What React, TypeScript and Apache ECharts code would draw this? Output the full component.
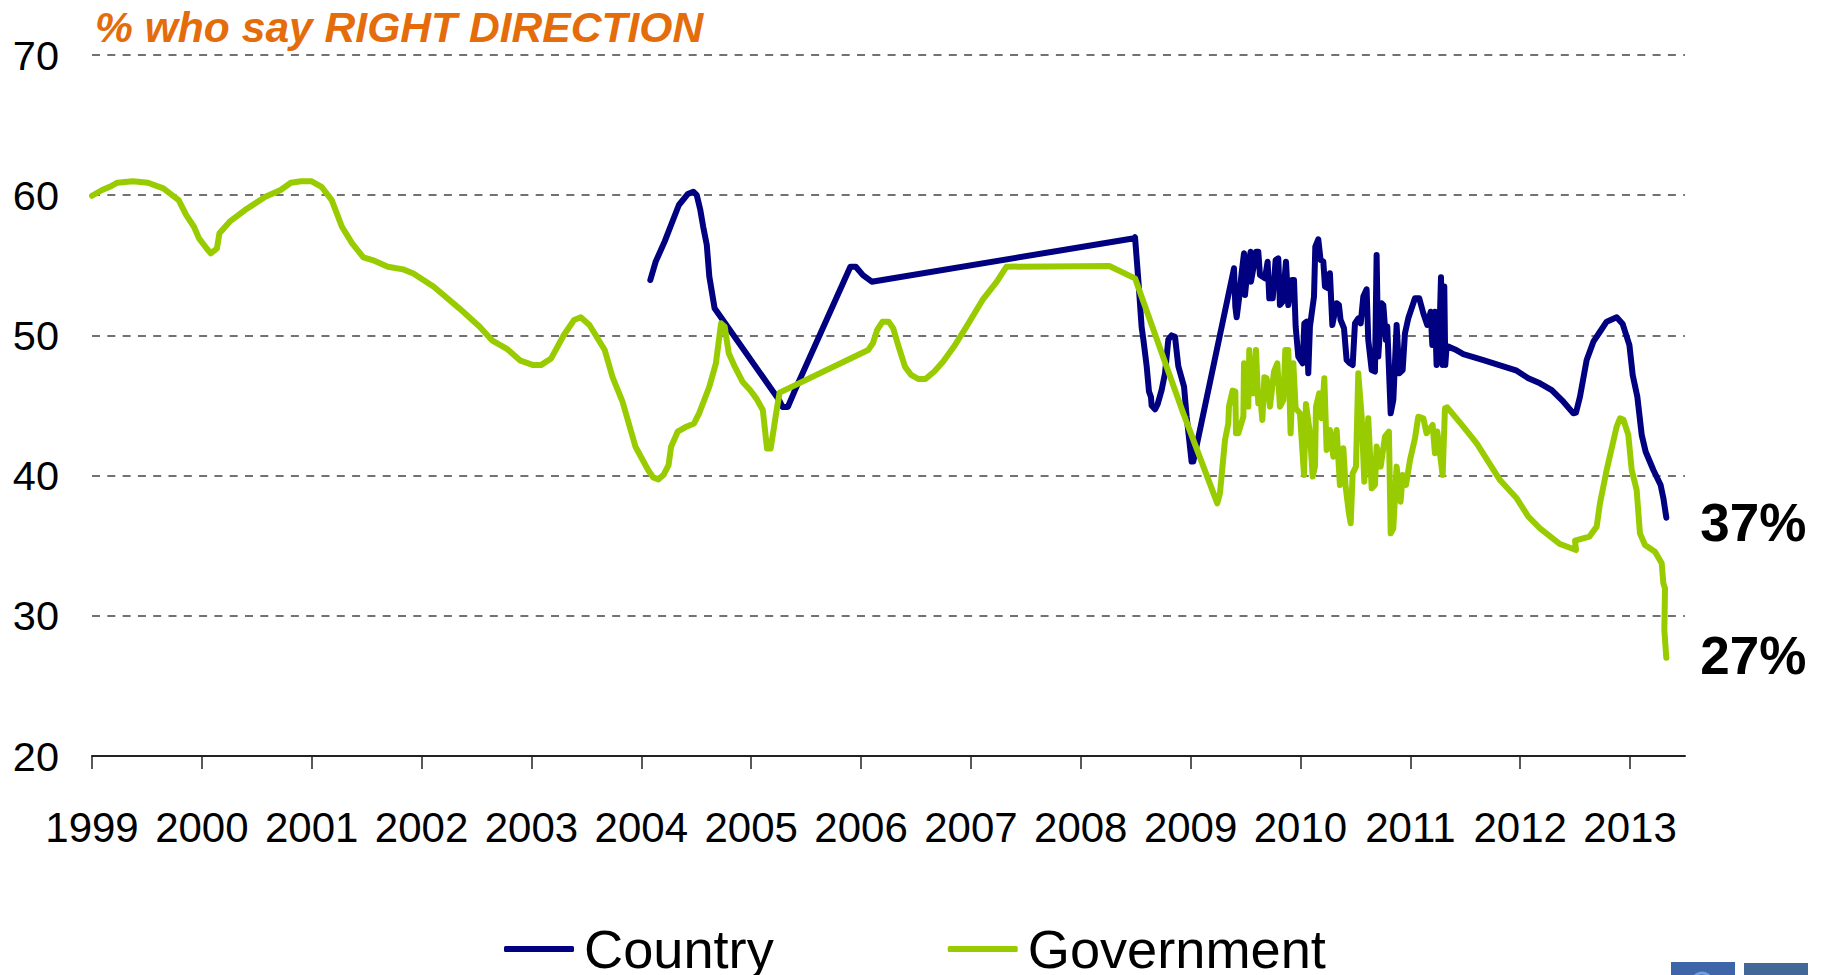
import React, { useEffect, useRef } from "react";
import * as echarts from "echarts";

const NAVY = "#000080";
const GREEN = "#99CC00";
const ORANGE = "#E46C0A";
const FONT = "'Liberation Sans', Arial, sans-serif";

const yearTicks = [1999, 2000, 2001, 2002, 2003, 2004, 2005, 2006, 2007, 2008, 2009, 2010, 2011, 2012, 2013];

// Tracking poll, [decimal year, % right direction]
const countryValues = [
  [2004.082, 53.95], [2004.131, 55.26], [2004.212, 56.69], [2004.277, 58.0], [2004.342, 59.3], [2004.424, 60.09],
  [2004.473, 60.25], [2004.505, 60.0], [2004.537, 58.95], [2004.563, 57.76], [2004.596, 56.45], [2004.619, 54.2],
  [2004.667, 51.93], [2005.253, 45.4], [2005.285, 44.9], [2005.334, 44.9], [2005.399, 46.1], [2005.903, 54.9],
  [2005.952, 54.9], [2006.017, 54.3], [2006.098, 53.83], [2008.487, 56.93], [2008.494, 57.0], [2008.524, 53.95],
  [2008.554, 50.6], [2008.57, 49.7], [2008.6, 47.8], [2008.621, 46.0], [2008.639, 45.6], [2008.645, 45.0],
  [2008.676, 44.73], [2008.7, 45.1], [2008.736, 46.1], [2008.767, 47.3], [2008.797, 49.7], [2008.827, 50.0],
  [2008.858, 49.9], [2008.888, 47.8], [2008.94, 46.35], [2008.964, 44.2], [2009.009, 41.0], [2009.024, 41.0],
  [2009.395, 54.79], [2009.407, 52.05], [2009.419, 51.29], [2009.443, 52.77], [2009.464, 54.43], [2009.486, 55.86],
  [2009.495, 52.88], [2009.516, 54.55], [2009.546, 55.97], [2009.549, 53.83], [2009.571, 54.79], [2009.595, 55.97],
  [2009.616, 55.97], [2009.631, 54.31], [2009.677, 54.07], [2009.701, 55.26], [2009.716, 52.65], [2009.747, 52.65],
  [2009.774, 55.38], [2009.798, 55.5], [2009.813, 52.17], [2009.838, 52.41], [2009.868, 55.26], [2009.889, 52.17],
  [2009.92, 53.95], [2009.941, 53.95], [2009.956, 50.63], [2009.98, 48.49], [2010.02, 48.01], [2010.035, 50.86],
  [2010.056, 50.98], [2010.071, 47.3], [2010.086, 50.63], [2010.123, 52.77], [2010.135, 56.33], [2010.162, 56.85],
  [2010.183, 55.38], [2010.208, 55.26], [2010.223, 53.48], [2010.253, 53.36], [2010.268, 54.43], [2010.29, 50.74],
  [2010.329, 52.29], [2010.35, 52.17], [2010.365, 51.1], [2010.396, 50.51], [2010.42, 48.25], [2010.45, 48.01],
  [2010.475, 47.89], [2010.496, 50.86], [2010.526, 51.22], [2010.548, 50.86], [2010.572, 52.77], [2010.602, 53.29],
  [2010.617, 49.67], [2010.648, 47.53], [2010.678, 47.42], [2010.693, 55.74], [2010.708, 48.49], [2010.739, 52.29],
  [2010.754, 52.17], [2010.778, 49.67], [2010.79, 50.63], [2010.821, 44.44], [2010.845, 45.39], [2010.875, 50.74],
  [2010.899, 47.3], [2010.93, 47.53], [2010.951, 50.15], [2010.981, 51.22], [2011.042, 52.65], [2011.081, 52.65],
  [2011.118, 51.58], [2011.154, 50.74], [2011.185, 51.69], [2011.2, 49.32], [2011.224, 51.69], [2011.239, 47.89],
  [2011.27, 51.58], [2011.279, 54.14], [2011.294, 47.89], [2011.309, 53.48], [2011.318, 47.89], [2011.33, 49.2],
  [2011.346, 49.2], [2011.407, 49.0], [2011.482, 48.67], [2011.665, 48.24], [2011.968, 47.48], [2012.074, 46.94],
  [2012.18, 46.58], [2012.287, 46.1], [2012.393, 45.27], [2012.484, 44.44], [2012.508, 44.49], [2012.544, 45.63],
  [2012.605, 48.24], [2012.666, 49.55], [2012.726, 50.26], [2012.787, 50.98], [2012.878, 51.29], [2012.933, 50.81],
  [2012.994, 49.31], [2013.024, 47.17], [2013.066, 45.63], [2013.106, 42.9], [2013.142, 41.7], [2013.212, 40.4],
  [2013.278, 39.33], [2013.303, 38.4], [2013.33, 37],
];

const governmentValues = [
  [1999, 59.96], [1999.092, 60.37], [1999.162, 60.6], [1999.231, 60.89], [1999.371, 61.0], [1999.51, 60.89],
  [1999.649, 60.49], [1999.789, 59.65], [1999.858, 58.58], [1999.928, 57.75], [1999.974, 56.92], [2000.044, 56.2],
  [2000.081, 55.85], [2000.137, 56.2], [2000.16, 57.28], [2000.253, 58.11], [2000.392, 58.94], [2000.578, 59.89],
  [2000.717, 60.37], [2000.81, 60.89], [2000.903, 61.0], [2000.996, 61.0], [2001.089, 60.6], [2001.182, 59.65],
  [2001.275, 57.75], [2001.368, 56.56], [2001.47, 55.57], [2001.554, 55.37], [2001.693, 54.9], [2001.833, 54.71],
  [2001.925, 54.42], [2002.111, 53.47], [2002.343, 51.93], [2002.529, 50.62], [2002.645, 49.62], [2002.784, 49.0],
  [2002.9, 48.2], [2003.016, 47.88], [2003.086, 47.88], [2003.179, 48.36], [2003.295, 50.03], [2003.388, 51.1],
  [2003.449, 51.29], [2003.528, 50.74], [2003.667, 48.96], [2003.737, 47.05], [2003.829, 45.27], [2003.947, 42.06],
  [2004.062, 40.4], [2004.108, 39.87], [2004.155, 39.73], [2004.201, 40.04], [2004.248, 40.75], [2004.271, 42.06],
  [2004.331, 43.13], [2004.41, 43.49], [2004.48, 43.72], [2004.526, 44.44], [2004.619, 46.34], [2004.679, 48.0],
  [2004.726, 50.86], [2004.759, 50.62], [2004.796, 48.72], [2004.851, 47.77], [2004.921, 46.7], [2004.99, 46.1],
  [2005.046, 45.51], [2005.106, 44.68], [2005.144, 41.94], [2005.177, 41.94], [2005.204, 43.25], [2005.232, 44.68],
  [2005.259, 45.92], [2006.065, 48.96], [2006.108, 49.44], [2006.147, 50.39], [2006.196, 50.98], [2006.251, 50.98],
  [2006.293, 50.5], [2006.342, 49.2], [2006.4, 47.77], [2006.456, 47.18], [2006.521, 46.89], [2006.586, 46.89],
  [2006.667, 47.42], [2006.748, 48.13], [2006.846, 49.2], [2006.96, 50.63], [2007.106, 52.53], [2007.236, 53.84],
  [2007.324, 54.9], [2008.26, 54.95], [2008.494, 54.07], [2008.933, 44.44], [2009.243, 38.02], [2009.267, 38.74],
  [2009.313, 42.54], [2009.343, 43.73], [2009.349, 44.92], [2009.382, 46.06], [2009.407, 45.99], [2009.413, 43.02],
  [2009.434, 43.02], [2009.48, 44.2], [2009.486, 48.01], [2009.504, 44.92], [2009.525, 44.92], [2009.534, 48.96],
  [2009.555, 45.87], [2009.577, 45.87], [2009.595, 48.96], [2009.616, 45.16], [2009.637, 45.39], [2009.653, 43.97],
  [2009.671, 47.01], [2009.692, 46.94], [2009.722, 44.92], [2009.759, 47.42], [2009.789, 48.01], [2009.813, 44.92],
  [2009.844, 45.39], [2009.862, 48.96], [2009.889, 48.96], [2009.91, 43.02], [2009.935, 48.01], [2009.956, 44.8],
  [2009.995, 44.44], [2010.032, 40.05], [2010.05, 45.11], [2010.086, 43.02], [2010.111, 39.93], [2010.132, 40.64],
  [2010.141, 44.92], [2010.171, 45.87], [2010.193, 44.09], [2010.217, 46.94], [2010.238, 41.83], [2010.268, 43.25],
  [2010.299, 41.35], [2010.329, 43.25], [2010.359, 39.33], [2010.39, 41.95], [2010.411, 39.21], [2010.441, 37.31],
  [2010.457, 36.6], [2010.475, 40.16], [2010.505, 40.64], [2010.526, 47.3], [2010.557, 44.2], [2010.581, 39.57],
  [2010.617, 44.09], [2010.648, 39.09], [2010.678, 39.33], [2010.693, 42.07], [2010.73, 40.64], [2010.769, 42.78],
  [2010.805, 43.14], [2010.821, 35.88], [2010.845, 36.24], [2010.875, 40.64], [2010.911, 38.14], [2010.93, 40.04],
  [2010.96, 39.33], [2010.997, 41.11], [2011.042, 42.66], [2011.072, 44.2], [2011.118, 44.09], [2011.148, 43.02],
  [2011.203, 43.61], [2011.224, 41.59], [2011.245, 43.14], [2011.294, 40.04], [2011.315, 44.8], [2011.336, 44.87],
  [2011.482, 43.49], [2011.604, 42.3], [2011.816, 39.68], [2011.968, 38.38], [2012.074, 37.07], [2012.18, 36.24],
  [2012.362, 35.12], [2012.508, 34.69], [2012.499, 35.36], [2012.629, 35.64], [2012.696, 36.36], [2012.726, 38.02],
  [2012.787, 40.4], [2012.878, 43.49], [2012.908, 44.08], [2012.939, 44.0], [2012.984, 42.9], [2013.015, 40.4],
  [2013.06, 38.97], [2013.09, 35.88], [2013.136, 35.05], [2013.227, 34.57], [2013.288, 33.74], [2013.303, 32.31],
  [2013.318, 31.96], [2013.312, 28.98], [2013.33, 27],
];

// Closing value of a series printed beside the end of its line
const closingLabel = (labelDy: number) => ({
  show: true,
  formatter: (p: any) => `${Math.round(p.value[1])}%`,
  fontFamily: FONT,
  fontSize: 53,
  fontWeight: "bold",
  color: "#000",
  distance: 0,
  offset: [34, labelDy],
});

export default function App() {
  const ref = useRef<HTMLDivElement>(null);

  useEffect(() => {
    const chart = echarts.init(ref.current!, undefined, { renderer: "svg" });
    chart.setOption({
      animation: false,
      backgroundColor: "#fff",
      title: {
        text: "% who say RIGHT DIRECTION",
        left: 95,
        top: 5,
        padding: 0,
        textStyle: { fontFamily: FONT, fontSize: 42.6, fontWeight: "bold", fontStyle: "italic", color: ORANGE },
      },
      legend: {
        left: 504,
        top: 922,
        padding: 0,
        itemWidth: 70,
        itemHeight: 6,
        itemGap: 174,
        icon: "roundRect",
        data: ["Country", "Government"],
        textStyle: { fontFamily: FONT, fontSize: 54.2, color: "#000", padding: [0, 0, 0, 5] },
      },
      grid: { left: 92, top: 55, width: 1593, height: 701 },
      xAxis: {
        type: "value",
        min: 1999,
        max: 2013.5,
        splitLine: { show: false },
        axisLine: { show: true, lineStyle: { color: "#222", width: 2 } },
        axisTick: { show: true, length: 13, customValues: yearTicks, lineStyle: { color: "#222", width: 1.5 } },
        axisLabel: {
          customValues: yearTicks,
          formatter: (v: number) => String(v),
          fontFamily: FONT,
          fontSize: 42,
          color: "#000",
          margin: 50,
          hideOverlap: false,
        },
      },
      yAxis: {
        type: "value",
        min: 20,
        max: 70,
        interval: 10,
        axisLine: { show: false },
        axisTick: { show: false },
        axisLabel: { fontFamily: FONT, fontSize: 41.5, color: "#000", margin: 33 },
        splitLine: { show: true, lineStyle: { color: "#444", width: 1.5, type: [8, 7.3] } },
      },
      graphic: [
        { type: "rect", shape: { x: 1671, y: 962, width: 64, height: 13 }, style: { fill: "#3D65A8" } },
        { type: "rect", shape: { x: 1744, y: 963, width: 64, height: 12 }, style: { fill: "#426898" } },
        {
          type: "arc",
          shape: { cx: 1702, cy: 983, r: 10, startAngle: Math.PI * 1.05, endAngle: Math.PI * 1.9 },
          style: { stroke: "#6FA0E0", lineWidth: 3, fill: "none" },
        },
      ],
      series: [
        {
          name: "Country",
          type: "line",
          data: countryValues,
          showSymbol: false,
          smooth: false,
          z: 2,
          color: NAVY,
          lineStyle: { color: NAVY, width: 6, cap: "round", join: "round" },
          endLabel: closingLabel(5),
        },
        {
          name: "Government",
          type: "line",
          data: governmentValues,
          showSymbol: false,
          smooth: false,
          z: 3,
          color: GREEN,
          lineStyle: { color: GREEN, width: 6, cap: "round", join: "round" },
          endLabel: closingLabel(-2),
        },
      ],
    });
    return () => chart.dispose();
  }, []);

  return <div ref={ref} style={{ position: "absolute", left: 0, top: 0, width: 1826, height: 975 }} />;
}
